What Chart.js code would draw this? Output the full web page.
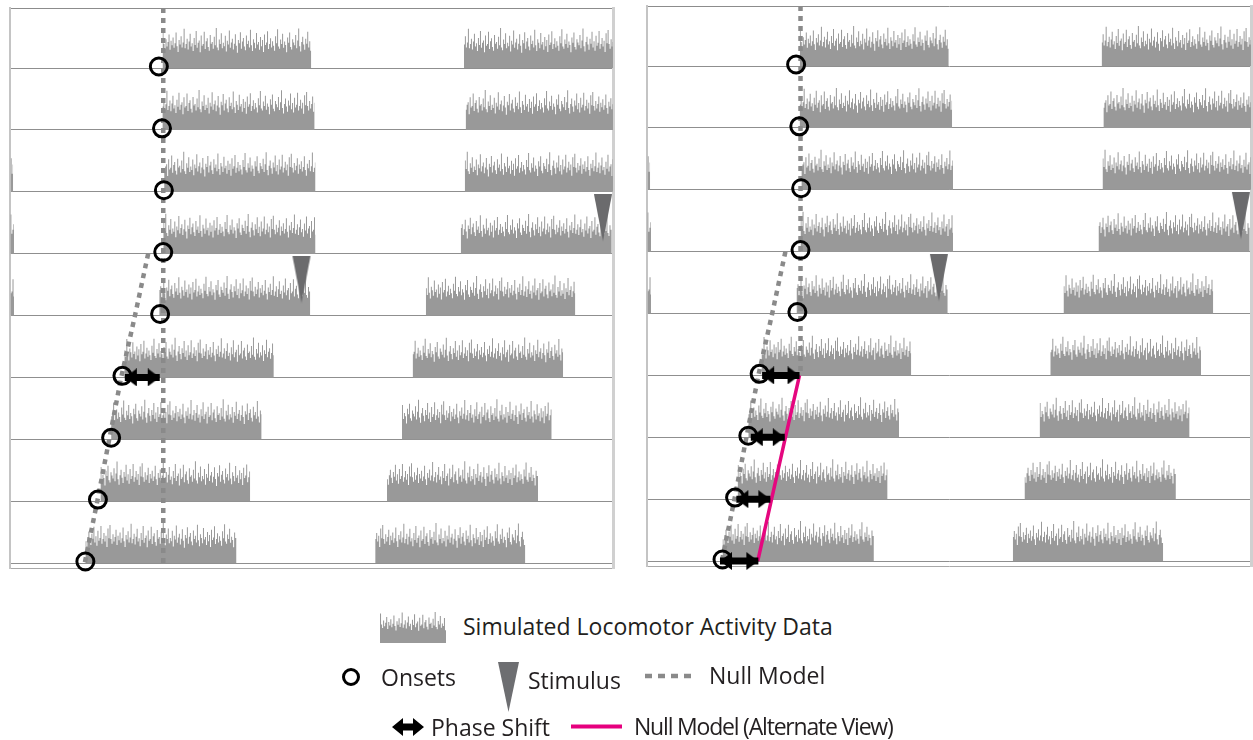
<!DOCTYPE html>
<html>
<head>
<meta charset="utf-8">
<title>Simulated locomotor activity – null model</title>
<script src="https://cdn.jsdelivr.net/npm/chart.js@4.4.1/dist/chart.umd.min.js"></script>
<style>
  html, body { margin: 0; padding: 0; background: #fff; }
  body { width: 1253px; height: 740px; position: relative; overflow: hidden;
         font-family: "Open Sans", "Noto Sans", sans-serif; color: #231f20; }
  canvas { position: absolute; }
  .lg { position: absolute; font-size: 23px; line-height: 1; white-space: nowrap; transform: translateY(-50%); }
  svg.ic { position: absolute; overflow: visible; }
</style>
</head>
<body>
<canvas id="panelA" width="630" height="590" style="left:0px;top:0px"></canvas>
<canvas id="panelB" width="630" height="590" style="left:637px;top:-2px"></canvas>

<!-- legend -->
<canvas id="legendActivity" width="66" height="32" style="left:380px;top:611px"></canvas>
<div class="lg" style="left:463px;top:626px">Simulated Locomotor Activity Data</div>

<svg class="ic" width="1253" height="740" style="left:0;top:0" viewBox="0 0 1253 740">
  <circle cx="351" cy="677" r="7.5" fill="none" stroke="#000" stroke-width="3"/>
  <polygon points="498,662 519,662 508.5,712" fill="#6d6e71"/>
  <line x1="645" y1="676" x2="697" y2="676" stroke="#8a8a8a" stroke-width="4.5" stroke-dasharray="7 6"/>
  <path d="M392,727 L403,718 L403,723.5 L413,723.5 L413,718 L424,727 L413,736 L413,730.5 L403,730.5 L403,736 Z" fill="#000"/>
  <line x1="571" y1="726.5" x2="622" y2="726.5" stroke="#e6007e" stroke-width="4"/>
</svg>
<div class="lg" style="left:381px;top:677px">Onsets</div>
<div class="lg" style="left:528px;top:680px">Stimulus</div>
<div class="lg" style="left:709px;top:675px">Null Model</div>
<div class="lg" style="left:431px;top:727px">Phase Shift</div>
<div class="lg" style="left:634px;top:726px;letter-spacing:-1.2px">Null Model (Alternate View)</div>

<script>
// ---- data -------------------------------------------------------------
// Double-plotted actogram: each row holds day n (0–24 h) and day n+1 (24–48 h).
const DAYS        = [1, 2, 3, 4, 5, 6, 7, 8, 9, 10];
const BOUT_START  = [12.14, 12.13, 12.27, 12.2, 11.88, 9.1, 8.05, 7.2, 6.0, 5.07];   // h
const BOUT_END    = [23.98, 24.25, 24.32, 24.32, 23.9, 21.0, 20.03, 19.12, 18.03, 17.02]; // h
const PROFILE_OFFSET = [0, 17, 34, 51, 68, 85, 102, 119, 136, 153];
const ROWS        = [1, 2, 3, 4, 5, 6, 7, 8, 9];

// counts per 0.08 h bin during an active bout
const BIN_HOURS = 0.08;
const COUNTS_PER_ROW = 150;
const ACTIVITY_COUNTS = [
  92, 58, 47, 70, 52, 63, 81, 44, 66, 55, 74, 49, 60, 86, 53, 39, 68, 57, 77, 50,
  62, 95, 48, 58, 71, 45, 64, 83, 52, 60, 41, 73, 56, 90, 49, 61, 67, 38, 79, 54,
  58, 88, 46, 65, 72, 51, 42, 80, 59, 63, 47, 76, 55, 97, 50, 43, 69, 58, 84, 48,
  61, 53, 78, 40, 66, 57, 91, 49, 62, 71, 45, 59, 82, 54, 37, 68, 60, 87, 47, 64,
  73, 52, 43, 79, 58, 66, 50, 93, 55, 41, 70, 61, 48, 85, 57, 63, 44, 75, 53, 68,
  39, 81, 56, 62, 89, 46, 58, 72, 50, 65, 54, 42, 77, 60, 94, 52, 47, 69, 58, 83,
  49, 64, 56, 38, 74, 61, 86, 51, 45, 70, 62, 55, 80, 48, 67, 96, 53, 40, 63, 76,
  57, 44, 71, 59, 88, 50, 65, 42, 78, 54, 61, 90, 47, 58, 73, 52, 66, 39, 84, 60
];

// annotations
const ONSET_ROWS  = [1, 2, 3, 4, 5, 6, 7, 8, 9];
const ONSET_HOURS = [11.85, 12.1, 12.25, 12.2, 11.95, 8.95, 8.05, 7.0, 6.0];
const STIMULUS_DAY  = [5];
const STIMULUS_HOUR = [23.2];
const NULL_HOUR = 12.2;
const NULL_SLANT_ROWS  = [4, 5, 6, 7, 8, 9];
const NULL_SLANT_HOURS = [11.0, 9.95, 8.85, 7.9, 6.95, 5.95];
// phase shifts (arrow tail → head, hours)
const SHIFT_A_ROWS = [6];
const SHIFT_A_FROM = [9.14];
const SHIFT_A_TO   = [11.92];
const SHIFT_B_ROWS = [6, 7, 8, 9];
const SHIFT_B_FROM = [9.15, 8.25, 7.1, 5.8];
const SHIFT_B_TO   = [12.12, 10.95, 9.8, 8.85];
const ALT_NULL_ROWS  = [6, 7, 8, 9];
const ALT_NULL_HOURS = [12.12, 11.0, 9.9, 8.8];

// ---- styling ----------------------------------------------------------
const ACTIVITY_GREY = '#999999';
const NULL_GREY = '#8a8a8a';
const MAGENTA = '#e5077f';
const Y_TOP = 0.03, Y_BOTTOM = 9.08;

// marker images
function arrowHead(dir) {
  const c = document.createElement('canvas');
  c.width = 26; c.height = 18;
  const g = c.getContext('2d');
  g.fillStyle = '#000';
  g.beginPath();
  if (dir > 0) { g.moveTo(1, 0); g.lineTo(13, 9); g.lineTo(1, 18); }
  else { g.moveTo(25, 0); g.lineTo(13, 9); g.lineTo(25, 18); }
  g.closePath(); g.fill();
  return c;
}
function stimulusMarker() {
  const c = document.createElement('canvas');
  c.width = 20; c.height = 94;
  const g = c.getContext('2d');
  g.fillStyle = '#6b6b6d';
  g.beginPath(); g.moveTo(1, 0); g.lineTo(19, 0); g.lineTo(10, 47); g.closePath(); g.fill();
  return c;
}
const HEAD_LEFT = arrowHead(-1), HEAD_RIGHT = arrowHead(1), STIM = stimulusMarker();

// ---- datasets ---------------------------------------------------------
function activityDatasets() {
  const sets = [];
  ROWS.forEach(row => {
    [-1, 0, 1].forEach(k => {
      const di = row - 1 + k;
      if (di < 0 || di >= DAYS.length) return;
      const shift = k * 24;
      const n = Math.round((BOUT_END[di] - BOUT_START[di]) / BIN_HOURS);
      const pts = [];
      for (let i = 0; i < n; i++) {
        const x = BOUT_START[di] + i * BIN_HOURS + shift;
        if (x < 0 || x >= 48) continue;
        const c = ACTIVITY_COUNTS[(PROFILE_OFFSET[di] + i) % ACTIVITY_COUNTS.length];
        pts.push({ x, y: row - c / COUNTS_PER_ROW });
      }
      if (!pts.length) return;
      pts.push({ x: Math.min(48, BOUT_END[di] + shift), y: row });
      sets.push({
        data: pts, stepped: true, fill: { value: row },
        backgroundColor: ACTIVITY_GREY, borderWidth: 0, pointRadius: 0, order: 10
      });
    });
  });
  return sets;
}

function onsetDataset() {
  return {
    data: ONSET_ROWS.map((r, i) => ({ x: ONSET_HOURS[i], y: r - 0.025 })),
    showLine: false, pointStyle: 'circle', pointRadius: 8.5, pointBorderWidth: 3,
    pointBorderColor: '#000', pointBackgroundColor: 'rgba(0,0,0,0)', clip: false, order: 3
  };
}

function stimulusDataset() {
  const pts = [];
  STIMULUS_DAY.forEach((d, i) => {
    pts.push({ x: STIMULUS_HOUR[i], y: d - 0.2 });        // left half of its own row
    pts.push({ x: STIMULUS_HOUR[i] + 24, y: d - 1 - 0.2 }); // right half of the row above
  });
  return { data: pts, showLine: false, pointStyle: STIM, pointRadius: 10, clip: false, order: 2 };
}

function nullDatasets(verticalEnd) {
  return [
    { data: [{ x: NULL_HOUR, y: Y_TOP }, { x: NULL_HOUR, y: verticalEnd }],
      borderColor: NULL_GREY, borderWidth: 4.5, borderDash: [5, 5], pointRadius: 0, fill: false, order: 6 },
    { data: NULL_SLANT_ROWS.map((r, i) => ({ x: NULL_SLANT_HOURS[i], y: r })),
      borderColor: NULL_GREY, borderWidth: 4.5, borderDash: [5, 5], pointRadius: 0, fill: false, order: 6 }
  ];
}

function shiftDatasets(rows, from, to) {
  return rows.map((r, i) => ({
    data: [{ x: from[i], y: r }, { x: to[i], y: r }],
    borderColor: '#000', borderWidth: 7, borderCapStyle: 'butt',
    pointStyle: [HEAD_LEFT, HEAD_RIGHT], pointRadius: 8, clip: false, fill: false, order: 4
  }));
}

function altNullDataset() {
  return {
    data: ALT_NULL_ROWS.map((r, i) => ({ x: ALT_NULL_HOURS[i], y: r })),
    borderColor: MAGENTA, borderWidth: 3.5, pointRadius: 0, fill: false, order: 5
  };
}

// ---- chart ------------------------------------------------------------
function panel(id, datasets, pad) {
  return new Chart(document.getElementById(id), {
    type: 'line',
    data: { datasets },
    options: {
      responsive: false, animation: false, events: [], devicePixelRatio: 1,
      layout: { autoPadding: false, padding: pad },
      plugins: { legend: { display: false }, tooltip: { enabled: false } },
      scales: {
        x: { type: 'linear', min: 0, max: 48, position: 'bottom',
             grid: { display: false, drawTicks: false }, ticks: { display: false },
             border: { display: true, color: '#a9a9a9', width: 1 } },
        xTop: { type: 'linear', min: 0, max: 48, position: 'top',
             grid: { display: false, drawTicks: false }, ticks: { display: false },
             border: { display: true, color: '#8c8c8c', width: 1 } },
        y: { type: 'linear', min: Y_TOP, max: Y_BOTTOM, reverse: true, position: 'left',
             grid: { color: '#8f8f8f', lineWidth: 1, drawTicks: false }, ticks: { display: false },
             border: { display: true, color: '#c4c4c4', width: 2 },
             afterBuildTicks: axis => { axis.ticks = ROWS.map(v => ({ value: v })); } },
        yRight: { type: 'linear', min: Y_TOP, max: Y_BOTTOM, reverse: true, position: 'right',
             grid: { display: false, drawTicks: false }, ticks: { display: false },
             border: { display: true, color: '#d0d0d0', width: 3 } }
      }
    }
  });
}

panel('panelA', [
  ...activityDatasets(),
  ...nullDatasets(Y_BOTTOM),
  ...shiftDatasets(SHIFT_A_ROWS, SHIFT_A_FROM, SHIFT_A_TO),
  onsetDataset(),
  stimulusDataset()
], { left: 10, top: 8, right: 17, bottom: 22 });

panel('panelB', [
  ...activityDatasets(),
  ...nullDatasets(ALT_NULL_ROWS[0]),
  altNullDataset(),
  ...shiftDatasets(SHIFT_B_ROWS, SHIFT_B_FROM, SHIFT_B_TO),
  onsetDataset(),
  stimulusDataset()
], { left: 10, top: 8, right: 16, bottom: 22 });

// legend swatch: a short stretch of the same activity record
new Chart(document.getElementById('legendActivity'), {
  type: 'line',
  data: { datasets: [{
    data: ACTIVITY_COUNTS.slice(0, 64).map((c, i) => ({ x: i, y: c })).concat([{ x: 64, y: 0 }]),
    stepped: true, fill: { value: 0 }, backgroundColor: ACTIVITY_GREY, borderWidth: 0, pointRadius: 0
  }] },
  options: {
    responsive: false, animation: false, events: [], devicePixelRatio: 1,
    layout: { autoPadding: false, padding: 0 },
    plugins: { legend: { display: false }, tooltip: { enabled: false } },
    scales: {
      x: { type: 'linear', min: 0, max: 64, display: false },
      y: { type: 'linear', min: 0, max: 100, display: false }
    }
  }
});
</script>
</body>
</html>
